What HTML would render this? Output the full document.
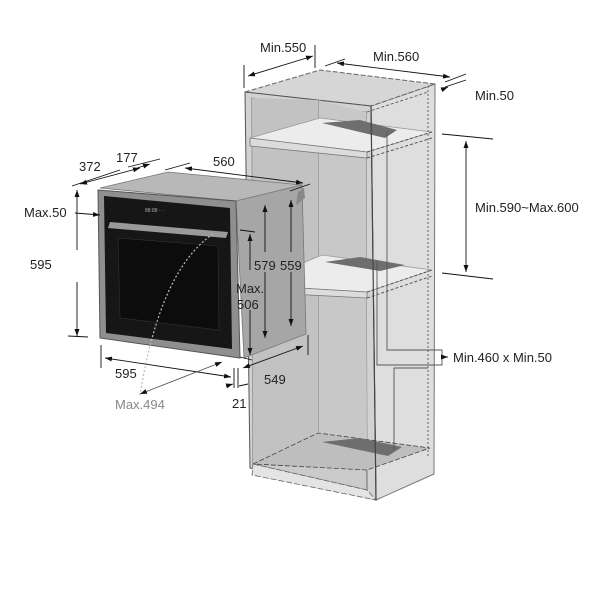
<!DOCTYPE html>
<html><head><meta charset="utf-8"><style>
html,body{margin:0;padding:0;background:#fff;width:600px;height:600px;overflow:hidden}
svg{display:block}
text{font-family:"Liberation Sans","DejaVu Sans",sans-serif;font-size:13px;fill:#222}
</style></head><body>
<svg width="600" height="600" viewBox="0 0 600 600" xmlns="http://www.w3.org/2000/svg">
<defs>
<marker id="a" markerWidth="8" markerHeight="8" refX="7" refY="4" orient="auto-start-reverse" markerUnits="userSpaceOnUse"><path d="M0,1.5 L7,4 L0,6.5 z" fill="#111"/></marker>
</defs>

<polygon points="371,106 435,84 434,474 376,500" fill="#dedede" stroke="#777" stroke-width="1"/>
<polygon points="245,92 320,70 435,84 371,106" fill="#d6d6d6" stroke="#666" stroke-width="1" stroke-dasharray="5,2"/>
<polygon points="245,92 371,106 376,500 250,468" fill="#d2d2d2" stroke="#555" stroke-width="1"/>
<polygon points="252,98 366,112 367,490 253,464" fill="#cbcbcb" stroke="#555" stroke-width="0.8"/>
<polygon points="318,100 366,112 367,440 318,432" fill="#c8c8c8"/>
<line x1="318" y1="100" x2="318" y2="432" stroke="#666" stroke-width="0.8"/>
<polygon points="252,98 318,100 318,432 253,464" fill="#c2c2c2"/>
<polygon points="250,138 320,118 432,132 367,152" fill="#ececec" stroke="#999" stroke-width="0.8"/>
<polygon points="250,138 367,152 367,158 250,146" fill="#dcdcdc" stroke="#777" stroke-width="0.8"/>
<polygon points="322,123 360,120 397,130 385,138" fill="#6e6e6e"/>
<line x1="367" y1="152" x2="432" y2="132" stroke="#555" stroke-dasharray="3,2"/>
<line x1="367" y1="158" x2="432" y2="138" stroke="#555" stroke-dasharray="3,2"/>
<polygon points="250,285 322,255 432,270 367,292" fill="#ececec" stroke="#999" stroke-width="0.8"/>
<polygon points="250,285 367,292 367,298 250,292" fill="#dcdcdc" stroke="#777" stroke-width="0.8"/>
<polygon points="325,262 360,257 405,265 380,271" fill="#6e6e6e"/>
<line x1="367" y1="292" x2="432" y2="270" stroke="#555" stroke-dasharray="3,2"/>
<line x1="367" y1="298" x2="432" y2="276" stroke="#555" stroke-dasharray="3,2"/>
<polygon points="253,464 318,433 430,448 367,470" fill="#bebebe" stroke="#444" stroke-width="0.8" stroke-dasharray="5,2"/>
<polygon points="322,442 360,438 402,447 388,456" fill="#6e6e6e"/>
<polygon points="253,464 367,490 376,500 252,475" fill="#e4e4e4" stroke="#666" stroke-width="0.8" stroke-dasharray="6,2"/>
<line x1="371" y1="106" x2="376" y2="500" stroke="#444" stroke-width="1.2"/>
<line x1="428" y1="86" x2="428" y2="458" stroke="#666" stroke-dasharray="2,2"/>
<line x1="367" y1="112" x2="428" y2="92" stroke="#666" stroke-dasharray="3,2"/>

<polyline points="387,132 387,350 442,350 442,365 377,365 377,262" fill="none" stroke="#555" stroke-width="0.9"/>
<polyline points="394,450 394,368 428,368" fill="none" stroke="#555" stroke-width="0.9"/>
<line x1="442" y1="357" x2="448" y2="357" stroke="#333" marker-end="url(#a)"/>

<polygon points="100,188 168,172 302,185 236,201" fill="#b8b8b8" stroke="#777" stroke-width="0.8"/>
<polygon points="236,201 302,185 306,334 244,358" fill="#a6a6a6" stroke="#777" stroke-width="0.8"/>
<polygon points="298,192 304,188 305,198 296,205" fill="#888"/>
<polygon points="98,190 236,201 240,358 100,338" fill="#8f8f8f" stroke="#555" stroke-width="1"/>
<polygon points="104,196 230,208 232,349 106,333" fill="#161616"/>
<polygon points="110,222 228,232 226,238 108,228" fill="#9a9a9a"/>
<polygon points="118,238 218,246 219,330 120,318" fill="#0c0c0c" stroke="#333" stroke-width="0.6"/>
<text x="145" y="212" style="font-size:5px;fill:#aaa">88:88 ·· ·</text>

<path d="M213,234 Q160,270 140,395" fill="none" stroke="#bbb" stroke-width="1.2" stroke-dasharray="2,2"/>

<g stroke="#111" stroke-width="0.9" fill="none">
<line x1="72" y1="186" x2="120" y2="170"/><line x1="80" y1="184" x2="140" y2="168" marker-start="url(#a)" marker-end="url(#a)"/>
<line x1="128" y1="167" x2="160" y2="159"/><line x1="137" y1="168" x2="150" y2="164" marker-end="url(#a)"/>
<line x1="165" y1="170" x2="190" y2="163"/>
<line x1="185" y1="168" x2="303" y2="183" marker-start="url(#a)" marker-end="url(#a)"/>
<line x1="290" y1="191" x2="310" y2="184"/>
<line x1="75" y1="213" x2="100" y2="215" marker-end="url(#a)"/>
<line x1="77" y1="190" x2="77" y2="250" marker-start="url(#a)"/>
<line x1="77" y1="282" x2="77" y2="336" marker-end="url(#a)"/>
<line x1="68" y1="336" x2="88" y2="337"/>
<line x1="101" y1="345" x2="101" y2="368"/>
<line x1="105" y1="358" x2="231" y2="377" marker-start="url(#a)" marker-end="url(#a)"/>
<line x1="140" y1="394" x2="222" y2="362" marker-start="url(#a)" marker-end="url(#a)" stroke="#555"/>
<line x1="234" y1="368" x2="234" y2="388"/><line x1="238" y1="368" x2="238" y2="388"/>
<line x1="243" y1="368" x2="303" y2="346" marker-start="url(#a)" marker-end="url(#a)"/>
<line x1="308" y1="335" x2="308" y2="355"/>
<line x1="226" y1="386" x2="233" y2="384" marker-end="url(#a)"/>
<line x1="239" y1="386" x2="248" y2="384"/>
<line x1="240" y1="357" x2="252" y2="360"/>
<line x1="240" y1="230" x2="255" y2="232"/>
<line x1="250" y1="234" x2="250" y2="270" marker-start="url(#a)"/>
<line x1="250" y1="310" x2="250" y2="355" marker-end="url(#a)"/>
<line x1="265" y1="205" x2="265" y2="252" marker-start="url(#a)"/>
<line x1="265" y1="272" x2="265" y2="338" marker-end="url(#a)"/>
<line x1="291" y1="200" x2="291" y2="252" marker-start="url(#a)"/>
<line x1="291" y1="272" x2="291" y2="326" marker-end="url(#a)"/>
</g>

<g stroke="#111" stroke-width="0.9" fill="none">
<line x1="244" y1="65" x2="244" y2="88"/>
<line x1="315" y1="45" x2="315" y2="68"/>
<line x1="248" y1="76" x2="313" y2="56" marker-start="url(#a)" marker-end="url(#a)"/>
<line x1="325" y1="66" x2="345" y2="59"/>
<line x1="337" y1="63" x2="450" y2="77" marker-start="url(#a)" marker-end="url(#a)"/>
<line x1="445" y1="82" x2="466" y2="74"/>
<line x1="445" y1="87" x2="466" y2="80"/>
<line x1="441" y1="90" x2="448" y2="87" marker-end="url(#a)"/>
<line x1="442" y1="134" x2="493" y2="139"/>
<line x1="442" y1="273" x2="493" y2="279"/>
<line x1="466" y1="141" x2="466" y2="272" marker-start="url(#a)" marker-end="url(#a)"/>
</g>

<text x="260" y="52">Min.550</text>
<text x="373" y="61">Min.560</text>
<text x="475" y="100">Min.50</text>
<text x="475" y="212">Min.590~Max.600</text>
<text x="453" y="362">Min.460 x Min.50</text>
<text x="79" y="171">372</text>
<text x="116" y="162">177</text>
<text x="213" y="166">560</text>
<text x="24" y="217">Max.50</text>
<text x="30" y="269">595</text>
<text x="254" y="270">579</text>
<text x="280" y="270">559</text>
<text x="236" y="293">Max.</text>
<text x="237" y="309">506</text>
<text x="115" y="378">595</text>
<text x="264" y="384">549</text>
<text x="232" y="408">21</text>
<text x="115" y="409" style="fill:#888">Max.494</text>
</svg>
</body></html>
